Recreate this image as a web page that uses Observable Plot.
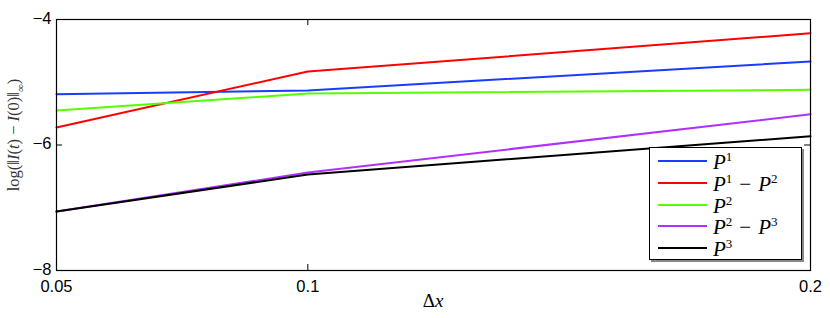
<!DOCTYPE html>
<html>
<head>
<meta charset="utf-8">
<script src="https://cdn.jsdelivr.net/npm/d3@7"></script>
<script src="https://cdn.jsdelivr.net/npm/@observablehq/plot@0.6"></script>
<style>
  html, body { margin: 0; padding: 0; background: #fff; }
  #wrap { position: relative; width: 830px; height: 318px; }
  .serif { font-family: "Liberation Serif", "DejaVu Serif", "Times New Roman", serif !important; }
  #ylab { position: absolute; left: 15px; top: 135px; transform: translate(-50%, -50%) rotate(-90deg); white-space: nowrap; font-size: 16.5px; color: #333; }
  #xlab { position: absolute; left: 433px; top: 301px; transform: translate(-50%, -50%); font-size: 19px; }
  #legend { position: absolute; left: 649px; top: 147px; width: 151px; height: 111px; border: 1px solid #000; background: #fff; box-shadow: 2px 2px 0 #888; }
  .row { position: absolute; left: 0; height: 20px; width: 100%; }
  .sw { position: absolute; left: 8px; top: 9px; width: 49px; height: 0; border-top: 2px solid; }
  .lab { position: absolute; left: 63px; top: 0; white-space: nowrap; font-size: 21px; line-height: 22px; }
  .lab sup { font-style: normal; font-size: 13px; vertical-align: 8px; line-height: 0; }
  .lab .op { font-style: normal; padding: 0 7px; }
</style>
</head>
<body>
<div id="wrap"></div>
<script>
const xValues = [0.05, 0.1, 0.2];
const seriesNames = ["P1", "P1 - P2", "P2", "P2 - P3", "P3"];
const colors = ["#1a3cff", "#ff0000", "#55ff00", "#b030ff", "#000000"];
const P1 = [-5.19, -5.13, -4.67];
const P1mP2 = [-5.72, -4.83, -4.22];
const P2 = [-5.45, -5.18, -5.12];
const P2mP3 = [-7.06, -6.44, -5.51];
const P3 = [-7.06, -6.47, -5.86];
const xTicks = [0.05, 0.1, 0.2];
const yTicks = [-8, -6, -4];
const xDomain = [0.05, 0.2];
const yDomain = [-8, -4];

const seriesValues = [P1, P1mP2, P2, P2mP3, P3];
const data = [];
seriesNames.forEach((s, i) => xValues.forEach((x, j) => data.push({x, y: seriesValues[i][j], s})));

const yFmt = d => (d < 0 ? "\u2212" : "") + Math.abs(d);

const W = 830, H = 318, mL = 56, mR = 20, mT = 19, mB = 48;
const innerW = W - mL - mR, innerH = H - mT - mB, tk = 6;

const plot = Plot.plot({
  width: W,
  height: H,
  marginLeft: mL,
  marginRight: mR,
  marginTop: mT,
  marginBottom: mB,
  style: {fontFamily: "'Liberation Sans', Arial, sans-serif", fontSize: "17px", color: "#000", background: "#fff"},
  x: {domain: xDomain, type: "linear"},
  y: {domain: yDomain},
  color: {domain: seriesNames, range: colors},
  marks: [
    Plot.line(data, {x: "x", y: "y", z: "s", stroke: "s", strokeWidth: 2}),
    Plot.ruleX(xTicks, {x: d => d, insetTop: innerH - tk, stroke: "#000"}),
    Plot.ruleX(xTicks, {x: d => d, insetBottom: innerH - tk, stroke: "#000"}),
    Plot.ruleY(yTicks, {y: d => d, insetRight: innerW - tk, stroke: "#000"}),
    Plot.ruleY(yTicks, {y: d => d, insetLeft: innerW - tk, stroke: "#000"}),
    Plot.frame({stroke: "#000", strokeWidth: 1.2}),
    Plot.axisX({ticks: xTicks, tickSize: 0, tickPadding: 10, tickFormat: d => String(d), label: null, fontSize: 16.5}),
    Plot.axisY({ticks: yTicks, tickSize: 0, tickPadding: 5, tickFormat: yFmt, label: null, fontSize: 16.5, dy: -1})
  ]
});
const wrap = document.getElementById("wrap");
wrap.appendChild(plot);

const ylab = document.createElement("div");
ylab.id = "ylab";
ylab.className = "serif";
ylab.innerHTML = 'log(‖<i>I</i>(<i>t</i>) − <i>I</i>(0)‖<sub style="font-size:11px">∞</sub>)';
wrap.appendChild(ylab);

const xlab = document.createElement("div");
xlab.id = "xlab";
xlab.className = "serif";
xlab.innerHTML = 'Δ<i>x</i>';
wrap.appendChild(xlab);

const legendLabels = [
  '<i>P</i><sup>1</sup>',
  '<i>P</i><sup>1</sup><span class="op">−</span><i>P</i><sup>2</sup>',
  '<i>P</i><sup>2</sup>',
  '<i>P</i><sup>2</sup><span class="op">−</span><i>P</i><sup>3</sup>',
  '<i>P</i><sup>3</sup>'
];
const legend = document.createElement("div");
legend.id = "legend";
seriesNames.forEach((s, i) => {
  const row = document.createElement("div");
  row.className = "row";
  row.style.top = (3 + i * 21.8) + "px";
  row.innerHTML = `<div class="sw" style="border-color:${colors[i]}"></div><div class="lab serif">${legendLabels[i]}</div>`;
  legend.appendChild(row);
});
wrap.appendChild(legend);
</script>
</body>
</html>
